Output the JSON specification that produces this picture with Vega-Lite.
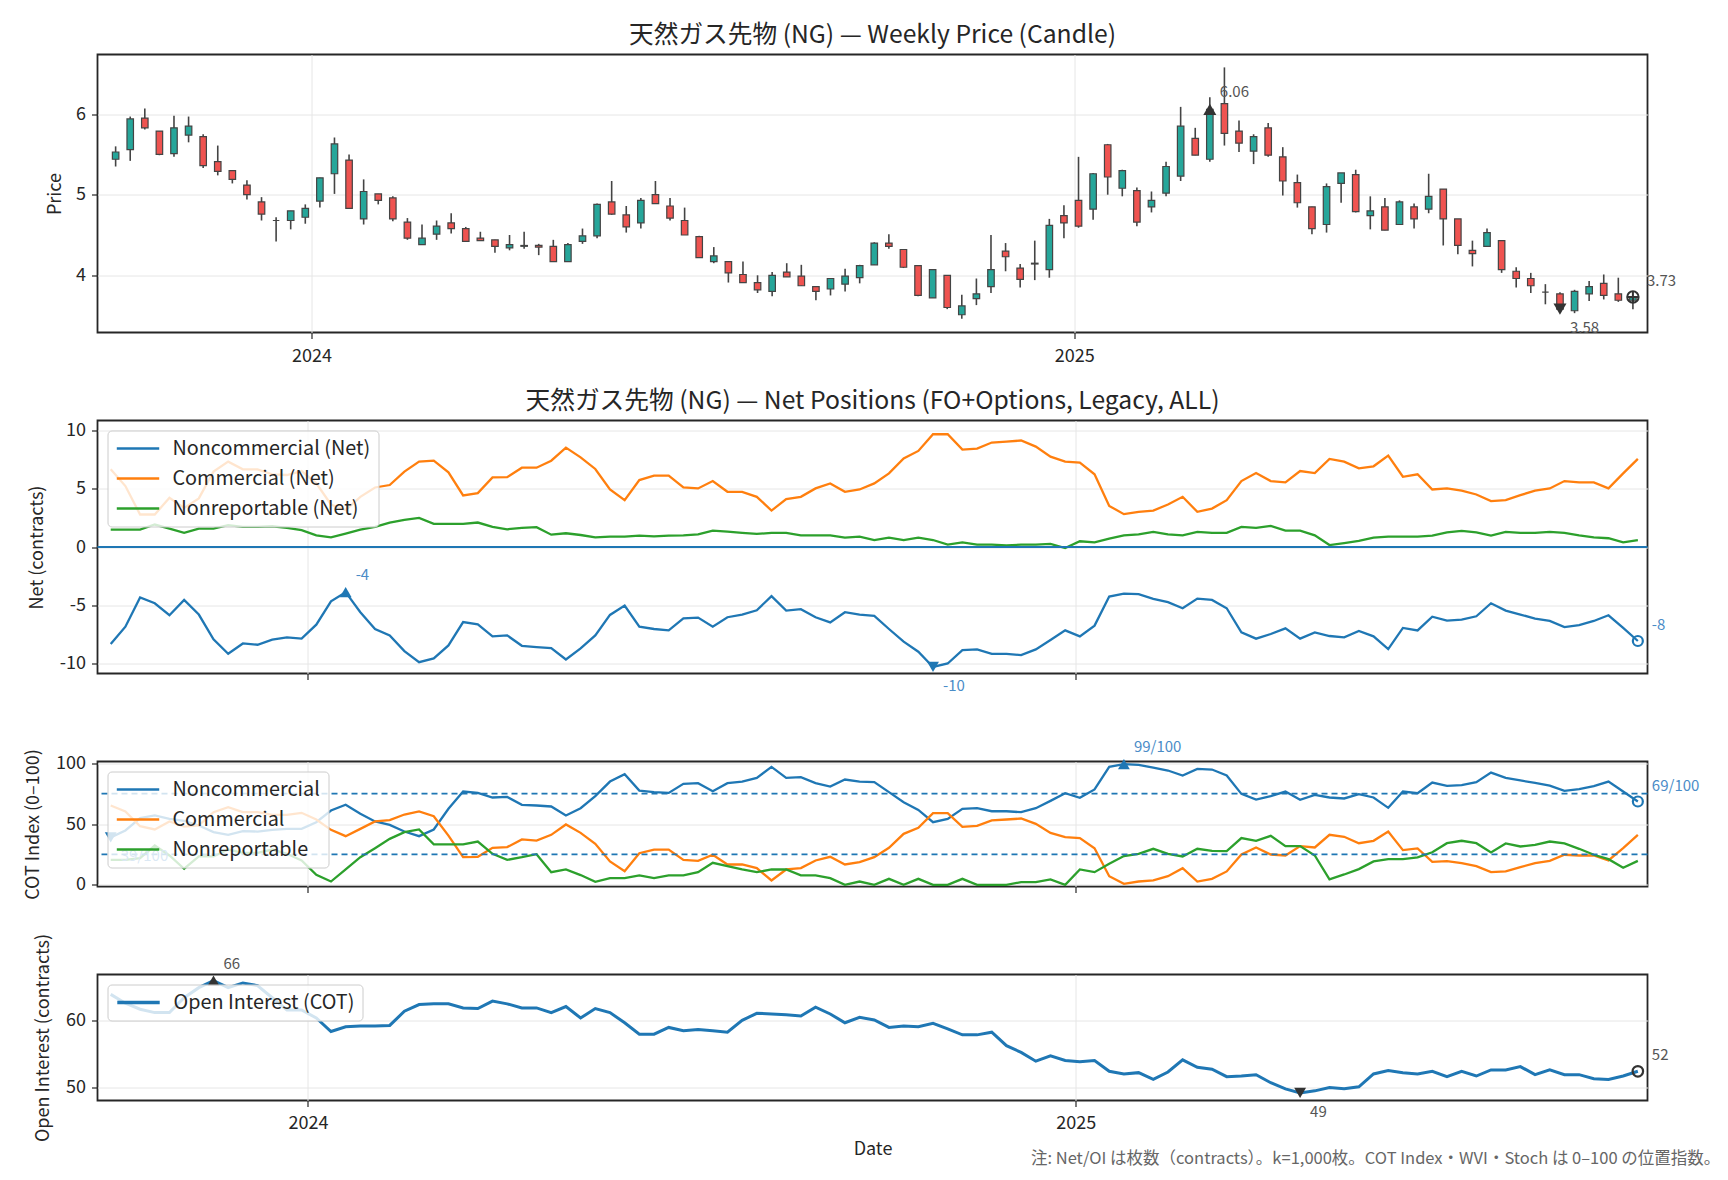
{
"$schema": "https://vega.github.io/schema/vega-lite/v6.json",
"padding": {"left": 23.5, "top": 21.5, "right": 5, "bottom": 5},
"background": "white",
"bounds": "flush",
"spacing": 88,
"title": {"text": "注: Net/OI は枚数（contracts）。k=1,000枚。COT Index・WVI・Stoch は 0–100 の位置指数。", "orient": "bottom", "anchor": "end", "fontSize": 16.5, "fontWeight": "normal", "color": "#666666", "offset": -8, "dx": 20},
"datasets": {
"w": [
{"d":"2023-09-29","o":5.44,"h":5.6,"l":5.35,"c":5.53,"nc":-8.33,"cm":6.67,"nr":1.49,"nci":39,"cmi":65.2,"nri":20.5,"oi":63.8},
{"d":"2023-10-06","o":5.56,"h":5.97,"l":5.42,"c":5.94,"nc":-6.84,"cm":5.23,"nr":1.49,"nci":44.7,"cmi":60.3,"nri":20.5,"oi":62.5},
{"d":"2023-10-13","o":5.95,"h":6.07,"l":5.81,"c":5.83,"nc":-4.34,"cm":2.79,"nr":1.49,"nci":54.8,"cmi":48.2,"nri":21.9,"oi":61.6},
{"d":"2023-10-20","o":5.79,"h":5.79,"l":5.49,"c":5.5,"nc":-4.83,"cm":2.79,"nr":1.93,"nci":57,"cmi":45.5,"nri":32.3,"oi":61.1},
{"d":"2023-10-27","o":5.51,"h":5.98,"l":5.47,"c":5.83,"nc":-5.86,"cm":4.22,"nr":1.58,"nci":54.2,"cmi":52.1,"nri":24.1,"oi":61.1},
{"d":"2023-11-03","o":5.74,"h":5.97,"l":5.65,"c":5.85,"nc":-4.54,"cm":3.36,"nr":1.21,"nci":52.6,"cmi":47.9,"nri":13.2,"oi":63.3},
{"d":"2023-11-10","o":5.72,"h":5.75,"l":5.33,"c":5.36,"nc":-5.8,"cm":4.17,"nr":1.58,"nci":48.8,"cmi":48.8,"nri":23.3,"oi":64.8},
{"d":"2023-11-17","o":5.41,"h":5.61,"l":5.24,"c":5.29,"nc":-7.93,"cm":6.47,"nr":1.58,"nci":43.3,"cmi":59.7,"nri":23.3,"oi":65.85},
{"d":"2023-11-24","o":5.3,"h":5.3,"l":5.14,"c":5.19,"nc":-9.17,"cm":7.33,"nr":1.87,"nci":41,"cmi":63.8,"nri":29,"oi":64.8},
{"d":"2023-12-01","o":5.12,"h":5.18,"l":4.94,"c":5.0,"nc":-8.28,"cm":6.67,"nr":1.72,"nci":44.1,"cmi":59.7,"nri":26.3,"oi":65.5},
{"d":"2023-12-08","o":4.91,"h":4.97,"l":4.68,"c":4.76,"nc":-8.39,"cm":6.67,"nr":1.72,"nci":43.8,"cmi":59.7,"nri":26.3,"oi":65.1},
{"d":"2023-12-15","o":4.68,"h":4.72,"l":4.42,"c":4.68,"nc":-7.96,"cm":6.24,"nr":1.78,"nci":45.2,"cmi":57.5,"nri":29,"oi":63.3},
{"d":"2023-12-22","o":4.68,"h":4.8,"l":4.57,"c":4.8,"nc":-7.76,"cm":6.18,"nr":1.64,"nci":46,"cmi":57.5,"nri":25.5,"oi":61.5},
{"d":"2023-12-29","o":4.72,"h":4.88,"l":4.64,"c":4.83,"nc":-7.87,"cm":6.52,"nr":1.44,"nci":46,"cmi":59.2,"nri":20,"oi":61.5},
{"d":"2024-01-05","o":4.92,"h":5.21,"l":4.84,"c":5.21,"nc":-6.67,"cm":5.46,"nr":1.0,"nci":51.5,"cmi":53.7,"nri":8.2,"oi":60.3},
{"d":"2024-01-12","o":5.26,"h":5.71,"l":5.01,"c":5.63,"nc":-4.66,"cm":3.65,"nr":0.83,"nci":61.1,"cmi":45.2,"nri":2.7,"oi":58.3},
{"d":"2024-01-19","o":5.43,"h":5.5,"l":4.83,"c":4.83,"nc":-3.88,"cm":3.16,"nr":1.15,"nci":65.8,"cmi":40,"nri":12.6,"oi":59.0},
{"d":"2024-01-26","o":4.7,"h":5.19,"l":4.63,"c":5.04,"nc":-5.6,"cm":4.31,"nr":1.49,"nci":58.4,"cmi":46,"nri":22.7,"oi":59.1},
{"d":"2024-02-02","o":5.01,"h":5.01,"l":4.88,"c":4.93,"nc":-7.04,"cm":5.11,"nr":1.72,"nci":52.1,"cmi":52.1,"nri":30.1,"oi":59.1},
{"d":"2024-02-09","o":4.96,"h":4.98,"l":4.67,"c":4.7,"nc":-7.59,"cm":5.32,"nr":2.1,"nci":49.3,"cmi":53.2,"nri":37.8,"oi":59.2},
{"d":"2024-02-16","o":4.66,"h":4.71,"l":4.44,"c":4.46,"nc":-8.94,"cm":6.47,"nr":2.33,"nci":43.8,"cmi":57.8,"nri":43.3,"oi":61.3},
{"d":"2024-02-23","o":4.38,"h":4.63,"l":4.38,"c":4.46,"nc":-9.89,"cm":7.33,"nr":2.5,"nci":40,"cmi":60.3,"nri":45.5,"oi":62.3},
{"d":"2024-03-01","o":4.51,"h":4.68,"l":4.44,"c":4.61,"nc":-9.57,"cm":7.41,"nr":1.98,"nci":45.5,"cmi":56.4,"nri":33.2,"oi":62.4},
{"d":"2024-03-08","o":4.65,"h":4.77,"l":4.52,"c":4.58,"nc":-8.45,"cm":6.41,"nr":1.98,"nci":62.5,"cmi":40.5,"nri":33.2,"oi":62.4},
{"d":"2024-03-15","o":4.58,"h":4.6,"l":4.42,"c":4.42,"nc":-6.44,"cm":4.43,"nr":1.98,"nci":76.7,"cmi":22.7,"nri":33.2,"oi":61.8},
{"d":"2024-03-22","o":4.46,"h":4.54,"l":4.43,"c":4.43,"nc":-6.64,"cm":4.63,"nr":2.1,"nci":75.6,"cmi":23,"nri":35.6,"oi":61.7},
{"d":"2024-03-29","o":4.44,"h":4.44,"l":4.28,"c":4.36,"nc":-7.67,"cm":5.98,"nr":1.72,"nci":71.8,"cmi":30.4,"nri":25.5,"oi":62.8},
{"d":"2024-04-05","o":4.34,"h":4.5,"l":4.31,"c":4.38,"nc":-7.59,"cm":6.0,"nr":1.52,"nci":72.3,"cmi":31,"nri":20.5,"oi":62.4},
{"d":"2024-04-12","o":4.36,"h":4.54,"l":4.33,"c":4.37,"nc":-8.48,"cm":6.81,"nr":1.64,"nci":65.8,"cmi":37.3,"nri":22.7,"oi":61.8},
{"d":"2024-04-19","o":4.37,"h":4.39,"l":4.25,"c":4.35,"nc":-8.59,"cm":6.81,"nr":1.7,"nci":65.2,"cmi":36.4,"nri":25.2,"oi":61.8},
{"d":"2024-04-26","o":4.36,"h":4.44,"l":4.17,"c":4.17,"nc":-8.68,"cm":7.41,"nr":1.06,"nci":64.4,"cmi":41.1,"nri":10.4,"oi":61.1},
{"d":"2024-05-03","o":4.17,"h":4.4,"l":4.17,"c":4.38,"nc":-9.66,"cm":8.53,"nr":1.18,"nci":57,"cmi":49.6,"nri":12.6,"oi":62.0},
{"d":"2024-05-10","o":4.42,"h":4.58,"l":4.39,"c":4.49,"nc":-8.71,"cm":7.7,"nr":1.03,"nci":63,"cmi":42.7,"nri":8,"oi":60.3},
{"d":"2024-05-17","o":4.49,"h":4.89,"l":4.46,"c":4.88,"nc":-7.59,"cm":6.7,"nr":0.82,"nci":73,"cmi":33.7,"nri":2.5,"oi":61.7},
{"d":"2024-05-24","o":4.91,"h":5.17,"l":4.75,"c":4.76,"nc":-5.83,"cm":4.94,"nr":0.89,"nci":84.9,"cmi":19.2,"nri":5.5,"oi":61.1},
{"d":"2024-05-31","o":4.75,"h":4.86,"l":4.53,"c":4.6,"nc":-5.03,"cm":4.02,"nr":0.89,"nci":91,"cmi":11.2,"nri":5.5,"oi":59.6},
{"d":"2024-06-07","o":4.65,"h":4.96,"l":4.58,"c":4.93,"nc":-6.84,"cm":5.75,"nr":0.98,"nci":77.5,"cmi":26,"nri":7.7,"oi":57.9},
{"d":"2024-06-14","o":5.0,"h":5.17,"l":4.89,"c":4.89,"nc":-7.04,"cm":6.12,"nr":0.92,"nci":76.2,"cmi":29,"nri":5.5,"oi":57.9},
{"d":"2024-06-21","o":4.86,"h":4.96,"l":4.68,"c":4.71,"nc":-7.16,"cm":6.12,"nr":0.98,"nci":75.6,"cmi":29,"nri":7.7,"oi":58.9},
{"d":"2024-06-28","o":4.68,"h":4.84,"l":4.5,"c":4.5,"nc":-6.12,"cm":5.11,"nr":1.0,"nci":83,"cmi":20.5,"nri":7.7,"oi":58.4},
{"d":"2024-07-05","o":4.48,"h":4.49,"l":4.22,"c":4.22,"nc":-6.06,"cm":5.03,"nr":1.09,"nci":83.6,"cmi":19.7,"nri":10.4,"oi":58.6},
{"d":"2024-07-12","o":4.17,"h":4.35,"l":4.15,"c":4.24,"nc":-6.84,"cm":5.66,"nr":1.41,"nci":77,"cmi":24.7,"nri":18.1,"oi":58.4},
{"d":"2024-07-19","o":4.17,"h":4.17,"l":3.91,"c":4.03,"nc":-6.03,"cm":4.74,"nr":1.32,"nci":83.6,"cmi":16.7,"nri":15.3,"oi":58.2},
{"d":"2024-07-26","o":4.01,"h":4.17,"l":3.91,"c":3.91,"nc":-5.8,"cm":4.74,"nr":1.21,"nci":84.9,"cmi":16.7,"nri":12.6,"oi":59.95},
{"d":"2024-08-02","o":3.91,"h":4.0,"l":3.78,"c":3.82,"nc":-5.43,"cm":4.31,"nr":1.12,"nci":87.9,"cmi":13.7,"nri":10.4,"oi":61.0},
{"d":"2024-08-09","o":3.8,"h":4.04,"l":3.74,"c":4.0,"nc":-4.22,"cm":3.13,"nr":1.21,"nci":97,"cmi":3.6,"nri":12.6,"oi":60.9},
{"d":"2024-08-16","o":4.04,"h":4.15,"l":3.98,"c":3.98,"nc":-5.46,"cm":4.11,"nr":1.21,"nci":87.9,"cmi":12.6,"nri":12.6,"oi":60.8},
{"d":"2024-08-23","o":3.99,"h":4.13,"l":3.87,"c":3.87,"nc":-5.34,"cm":4.31,"nr":1.0,"nci":88.5,"cmi":13.7,"nri":7.7,"oi":60.6},
{"d":"2024-08-30","o":3.86,"h":3.86,"l":3.69,"c":3.8,"nc":-6.03,"cm":5.03,"nr":1.0,"nci":83.6,"cmi":20,"nri":7.7,"oi":61.9},
{"d":"2024-09-06","o":3.83,"h":3.96,"l":3.75,"c":3.96,"nc":-6.47,"cm":5.46,"nr":1.0,"nci":80.8,"cmi":23,"nri":5.5,"oi":60.9},
{"d":"2024-09-13","o":3.89,"h":4.08,"l":3.8,"c":3.99,"nc":-5.6,"cm":4.74,"nr":0.8,"nci":86.6,"cmi":16.7,"nri":0,"oi":59.6},
{"d":"2024-09-20","o":3.97,"h":4.13,"l":3.9,"c":4.12,"nc":-5.8,"cm":4.94,"nr":0.89,"nci":84.9,"cmi":18.6,"nri":2.7,"oi":60.4},
{"d":"2024-09-27","o":4.13,"h":4.41,"l":4.13,"c":4.4,"nc":-5.92,"cm":5.46,"nr":0.6,"nci":84.4,"cmi":22.7,"nri":0,"oi":60.0},
{"d":"2024-10-04","o":4.4,"h":4.51,"l":4.33,"c":4.36,"nc":-7.04,"cm":6.32,"nr":0.8,"nci":76.2,"cmi":30.4,"nri":4.9,"oi":58.9},
{"d":"2024-10-11","o":4.32,"h":4.32,"l":4.09,"c":4.1,"nc":-8.13,"cm":7.61,"nr":0.6,"nci":67.9,"cmi":41.9,"nri":0,"oi":59.1},
{"d":"2024-10-18","o":4.12,"h":4.12,"l":3.74,"c":3.75,"nc":-8.99,"cm":8.25,"nr":0.8,"nci":61.6,"cmi":46.8,"nri":4.9,"oi":59.0},
{"d":"2024-10-25","o":3.72,"h":4.07,"l":3.72,"c":4.07,"nc":-10.3,"cm":9.68,"nr":0.6,"nci":51.5,"cmi":58.9,"nri":0,"oi":59.5},
{"d":"2024-11-01","o":4.0,"h":4.0,"l":3.58,"c":3.6,"nc":-10.0,"cm":9.68,"nr":0.2,"nci":54.2,"cmi":58.9,"nri":0,"oi":58.7},
{"d":"2024-11-08","o":3.51,"h":3.76,"l":3.46,"c":3.62,"nc":-8.85,"cm":8.36,"nr":0.4,"nci":62.5,"cmi":47.7,"nri":4.9,"oi":57.8},
{"d":"2024-11-15","o":3.71,"h":3.96,"l":3.63,"c":3.77,"nc":-8.79,"cm":8.45,"nr":0.2,"nci":63,"cmi":48.5,"nri":0,"oi":57.8},
{"d":"2024-11-22","o":3.86,"h":4.5,"l":3.78,"c":4.07,"nc":-9.17,"cm":8.97,"nr":0.2,"nci":60.5,"cmi":52.9,"nri":0,"oi":58.2},
{"d":"2024-11-29","o":4.3,"h":4.4,"l":4.05,"c":4.23,"nc":-9.17,"cm":9.05,"nr":0.14,"nci":60.5,"cmi":53.7,"nri":0,"oi":56.2},
{"d":"2024-12-06","o":4.09,"h":4.14,"l":3.85,"c":3.95,"nc":-9.28,"cm":9.14,"nr":0.2,"nci":59.7,"cmi":54.5,"nri":2.2,"oi":55.2},
{"d":"2024-12-13","o":4.14,"h":4.43,"l":3.94,"c":4.15,"nc":-8.79,"cm":8.62,"nr":0.2,"nci":63,"cmi":50.1,"nri":2.2,"oi":53.9},
{"d":"2024-12-20","o":4.07,"h":4.7,"l":3.97,"c":4.62,"nc":-7.99,"cm":7.76,"nr":0.26,"nci":69,"cmi":42.7,"nri":4.4,"oi":54.7},
{"d":"2024-12-27","o":4.74,"h":4.87,"l":4.46,"c":4.65,"nc":-7.16,"cm":7.33,"nr":-0.09,"nci":75.3,"cmi":39.2,"nri":0,"oi":54.0},
{"d":"2025-01-03","o":4.93,"h":5.47,"l":4.59,"c":4.61,"nc":-7.67,"cm":7.24,"nr":0.49,"nci":71.5,"cmi":38.4,"nri":12.6,"oi":53.8},
{"d":"2025-01-10","o":4.82,"h":5.27,"l":4.69,"c":5.26,"nc":-6.75,"cm":6.24,"nr":0.4,"nci":78.4,"cmi":30.1,"nri":10.4,"oi":54.0},
{"d":"2025-01-17","o":5.62,"h":5.63,"l":5.0,"c":5.22,"nc":-4.25,"cm":3.53,"nr":0.72,"nci":97,"cmi":7.1,"nri":17.3,"oi":52.4},
{"d":"2025-01-24","o":5.08,"h":5.31,"l":4.98,"c":5.3,"nc":-4.0,"cm":2.82,"nr":1.0,"nci":99.2,"cmi":0.8,"nri":23.6,"oi":52.0},
{"d":"2025-01-31","o":5.05,"h":5.09,"l":4.61,"c":4.66,"nc":-4.05,"cm":3.02,"nr":1.09,"nci":98.6,"cmi":2.7,"nri":25.5,"oi":52.2},
{"d":"2025-02-07","o":4.85,"h":5.04,"l":4.78,"c":4.93,"nc":-4.45,"cm":3.13,"nr":1.29,"nci":96.3,"cmi":3.6,"nri":29.6,"oi":51.2},
{"d":"2025-02-14","o":5.02,"h":5.41,"l":4.98,"c":5.35,"nc":-4.74,"cm":3.65,"nr":1.09,"nci":94,"cmi":7.1,"nri":25.5,"oi":52.3},
{"d":"2025-02-21","o":5.23,"h":6.09,"l":5.17,"c":5.85,"nc":-5.26,"cm":4.31,"nr":1.0,"nci":89.9,"cmi":13.7,"nri":23.3,"oi":54.1},
{"d":"2025-02-28","o":5.7,"h":5.83,"l":5.49,"c":5.49,"nc":-4.43,"cm":3.02,"nr":1.29,"nci":95.3,"cmi":2.7,"nri":29.6,"oi":53.0},
{"d":"2025-03-07","o":5.44,"h":6.21,"l":5.41,"c":6.06,"nc":-4.54,"cm":3.3,"nr":1.21,"nci":94.8,"cmi":4.9,"nri":27.9,"oi":52.7},
{"d":"2025-03-14","o":6.13,"h":6.58,"l":5.61,"c":5.76,"nc":-5.26,"cm":4.02,"nr":1.21,"nci":89.9,"cmi":11,"nri":27.7,"oi":51.6},
{"d":"2025-03-21","o":5.79,"h":5.92,"l":5.53,"c":5.64,"nc":-7.33,"cm":5.66,"nr":1.72,"nci":74.8,"cmi":24.9,"nri":38.4,"oi":51.7},
{"d":"2025-03-28","o":5.54,"h":5.75,"l":5.38,"c":5.72,"nc":-7.87,"cm":6.35,"nr":1.64,"nci":70.1,"cmi":30.7,"nri":36.2,"oi":51.9},
{"d":"2025-04-04","o":5.83,"h":5.89,"l":5.47,"c":5.49,"nc":-7.47,"cm":5.66,"nr":1.81,"nci":72.9,"cmi":24.9,"nri":40.3,"oi":50.7},
{"d":"2025-04-11","o":5.47,"h":5.59,"l":4.99,"c":5.17,"nc":-6.98,"cm":5.55,"nr":1.41,"nci":76.7,"cmi":24.1,"nri":31.8,"oi":49.8},
{"d":"2025-04-18","o":5.15,"h":5.25,"l":4.84,"c":4.9,"nc":-7.87,"cm":6.52,"nr":1.41,"nci":69.9,"cmi":31.8,"nri":31.8,"oi":49.2},
{"d":"2025-04-25","o":4.85,"h":4.85,"l":4.51,"c":4.58,"nc":-7.33,"cm":6.35,"nr":1.0,"nci":74,"cmi":30.7,"nri":24.1,"oi":49.5},
{"d":"2025-05-02","o":4.63,"h":5.14,"l":4.53,"c":5.1,"nc":-7.64,"cm":7.56,"nr":0.17,"nci":71.8,"cmi":41.1,"nri":4.4,"oi":50.0},
{"d":"2025-05-09","o":5.14,"h":5.27,"l":4.9,"c":5.27,"nc":-7.76,"cm":7.33,"nr":0.34,"nci":71,"cmi":39.5,"nri":8.5,"oi":49.8},
{"d":"2025-05-16","o":5.25,"h":5.31,"l":4.78,"c":4.79,"nc":-7.21,"cm":6.75,"nr":0.52,"nci":74.5,"cmi":34.2,"nri":12.9,"oi":50.1},
{"d":"2025-05-23","o":4.74,"h":4.98,"l":4.57,"c":4.8,"nc":-7.67,"cm":6.93,"nr":0.8,"nci":71.8,"cmi":36.2,"nri":19.2,"oi":52.0},
{"d":"2025-05-30","o":4.85,"h":4.96,"l":4.56,"c":4.56,"nc":-8.76,"cm":7.84,"nr":0.89,"nci":63.3,"cmi":43.8,"nri":21.1,"oi":52.5},
{"d":"2025-06-06","o":4.63,"h":4.93,"l":4.63,"c":4.91,"nc":-6.95,"cm":6.03,"nr":0.89,"nci":76.7,"cmi":28.5,"nri":21.1,"oi":52.2},
{"d":"2025-06-13","o":4.85,"h":4.89,"l":4.58,"c":4.7,"nc":-7.16,"cm":6.24,"nr":0.89,"nci":75.3,"cmi":29.9,"nri":22.5,"oi":52.0},
{"d":"2025-06-20","o":4.82,"h":5.26,"l":4.77,"c":4.98,"nc":-5.98,"cm":4.94,"nr":0.98,"nci":84.1,"cmi":18.9,"nri":26.8,"oi":52.4},
{"d":"2025-06-27","o":5.07,"h":5.07,"l":4.37,"c":4.7,"nc":-6.32,"cm":5.03,"nr":1.26,"nci":81.4,"cmi":19.5,"nri":34.2,"oi":51.6},
{"d":"2025-07-04","o":4.7,"h":4.7,"l":4.26,"c":4.37,"nc":-6.24,"cm":4.83,"nr":1.38,"nci":81.9,"cmi":17.8,"nri":36.2,"oi":52.4},
{"d":"2025-07-11","o":4.31,"h":4.43,"l":4.11,"c":4.27,"nc":-5.95,"cm":4.51,"nr":1.26,"nci":84.4,"cmi":15.3,"nri":34.2,"oi":51.7},
{"d":"2025-07-18","o":4.36,"h":4.58,"l":4.35,"c":4.53,"nc":-4.83,"cm":3.94,"nr":0.98,"nci":92.3,"cmi":10.4,"nri":26.6,"oi":52.6},
{"d":"2025-07-25","o":4.43,"h":4.43,"l":4.03,"c":4.07,"nc":-5.46,"cm":4.02,"nr":1.29,"nci":87.9,"cmi":11,"nri":34,"oi":52.6},
{"d":"2025-08-01","o":4.05,"h":4.1,"l":3.85,"c":3.96,"nc":-5.8,"cm":4.45,"nr":1.21,"nci":85.8,"cmi":14.5,"nri":31.5,"oi":53.1},
{"d":"2025-08-08","o":3.96,"h":4.03,"l":3.78,"c":3.87,"nc":-6.15,"cm":4.83,"nr":1.21,"nci":83.8,"cmi":17.8,"nri":32.9,"oi":51.9},
{"d":"2025-08-15","o":3.79,"h":3.89,"l":3.64,"c":3.79,"nc":-6.35,"cm":5.03,"nr":1.29,"nci":81.6,"cmi":19.7,"nri":35.6,"oi":52.6},
{"d":"2025-08-22","o":3.77,"h":3.79,"l":3.55,"c":3.58,"nc":-6.87,"cm":5.66,"nr":1.21,"nci":77.3,"cmi":24.7,"nri":34,"oi":51.9},
{"d":"2025-08-29","o":3.56,"h":3.82,"l":3.53,"c":3.8,"nc":-6.7,"cm":5.55,"nr":1.0,"nci":78.6,"cmi":24.1,"nri":29.6,"oi":51.9},
{"d":"2025-09-05","o":3.77,"h":3.93,"l":3.68,"c":3.86,"nc":-6.35,"cm":5.55,"nr":0.83,"nci":81.1,"cmi":24.1,"nri":24.7,"oi":51.3},
{"d":"2025-09-12","o":3.9,"h":4.01,"l":3.7,"c":3.75,"nc":-5.86,"cm":5.03,"nr":0.75,"nci":84.9,"cmi":20,"nri":21.1,"oi":51.2},
{"d":"2025-09-19","o":3.77,"h":3.97,"l":3.67,"c":3.69,"nc":-6.95,"cm":6.32,"nr":0.4,"nci":76.7,"cmi":30.1,"nri":14,"oi":51.7},
{"d":"2025-09-26","o":3.69,"h":3.74,"l":3.58,"c":3.73,"nc":-8.07,"cm":7.56,"nr":0.6,"nci":68.5,"cmi":41.1,"nri":19.7,"oi":52.4}
],
"ann": [
{"p":"price","k":"max","d":"2025-03-07","v":6.06,"t":"6.06"},
{"p":"price","k":"min","d":"2025-08-22","v":3.58,"t":"3.58"},
{"p":"price","k":"last","d":"2025-09-26","v":3.73,"t":"3.73"},
{"p":"net","k":"max","d":"2024-01-19","v":-3.88,"t":"-4"},
{"p":"net","k":"min","d":"2024-10-25","v":-10.3,"t":"-10"},
{"p":"net","k":"last","d":"2025-09-26","v":-8.07,"t":"-8"},
{"p":"cot","k":"max","d":"2025-01-24","v":99.2,"t":"99/100"},
{"p":"cot","k":"min","d":"2023-09-29","v":39,"t":"39/100"},
{"p":"cot","k":"last","d":"2025-09-26","v":68.5,"t":"69/100"},
{"p":"oi","k":"max","d":"2023-11-17","v":65.85,"t":"66"},
{"p":"oi","k":"min","d":"2025-04-18","v":49.2,"t":"49"},
{"p":"oi","k":"last","d":"2025-09-26","v":52.4,"t":"52"}
]
},
"resolve": {"scale": {"color": "independent"}, "legend": {"color": "independent"}},
"vconcat": [
{
"width": 1550, "height": 278,
"title": {"text": "天然ガス先物 (NG) — Weekly Price (Candle)"},
"layer": [
{"data": {"name": "w"}, "mark": {"type": "rule", "color": "#444444", "strokeWidth": 1.6},
 "encoding": {
  "x": {"field": "d", "type": "temporal", "title": null, "scale": {"type": "utc", "domain": [1695401280000, 1759242240000]}, "axis": {"values": [1704067200000, 1735689600000], "format": "%Y", "labelPadding": 9}},
  "y": {"field": "l", "type": "quantitative", "title": "Price", "scale": {"domain": [3.29, 6.74], "nice": false, "zero": false}, "axis": {"values": [4, 5, 6], "format": "d", "titlePadding": 11}},
  "y2": {"field": "h"}}},
{"data": {"name": "w"}, "mark": {"type": "bar", "size": 6.5, "stroke": "#444444", "strokeWidth": 1.2},
 "encoding": {
  "x": {"field": "d", "type": "temporal", "title": null, "scale": {"type": "utc", "domain": [1695401280000, 1759242240000]}},
  "y": {"field": "o", "type": "quantitative", "title": "Price"},
  "y2": {"field": "c"},
  "color": {"condition": {"test": "datum.c >= datum.o", "value": "#26a69a"}, "value": "#ef5350"}}},
{"data": {"name": "ann"}, "transform": [{"filter": "datum.p == 'price' && datum.k == 'max'"}],
 "mark": {"type": "point", "shape": "triangle-up", "filled": true, "opacity": 1, "size": 170, "color": "#333333"},
 "encoding": {"x": {"field": "d", "type": "temporal", "title": null}, "y": {"field": "v", "type": "quantitative", "title": "Price"}}},
{"data": {"name": "ann"}, "transform": [{"filter": "datum.p == 'price' && datum.k == 'min'"}],
 "mark": {"type": "point", "shape": "triangle-down", "filled": true, "opacity": 1, "size": 170, "color": "#333333"},
 "encoding": {"x": {"field": "d", "type": "temporal", "title": null}, "y": {"field": "v", "type": "quantitative", "title": "Price"}}},
{"data": {"name": "ann"}, "transform": [{"filter": "datum.p == 'price' && datum.k == 'last'"}],
 "mark": {"type": "point", "shape": "circle", "filled": false, "opacity": 1, "size": 130, "strokeWidth": 2, "color": "#333333"},
 "encoding": {"x": {"field": "d", "type": "temporal", "title": null}, "y": {"field": "v", "type": "quantitative", "title": "Price"}}},
{"data": {"name": "ann"}, "transform": [{"filter": "datum.p == 'price' && datum.k == 'last'"}],
 "mark": {"type": "point", "shape": "M-1,0L1,0M0,-1L0,1", "filled": false, "opacity": 1, "size": 130, "strokeWidth": 2, "color": "#333333"},
 "encoding": {"x": {"field": "d", "type": "temporal", "title": null}, "y": {"field": "v", "type": "quantitative", "title": "Price"}}},
{"data": {"name": "ann"}, "transform": [{"filter": "datum.p == 'price' && datum.k == 'max'"}],
 "mark": {"type": "text", "align": "left", "baseline": "middle", "dx": 10, "dy": -17, "fontSize": 15, "color": "#555555"},
 "encoding": {"x": {"field": "d", "type": "temporal", "title": null}, "y": {"field": "v", "type": "quantitative", "title": "Price"}, "text": {"field": "t"}}},
{"data": {"name": "ann"}, "transform": [{"filter": "datum.p == 'price' && datum.k == 'min'"}],
 "mark": {"type": "text", "align": "left", "baseline": "middle", "dx": 10, "dy": 19, "fontSize": 15, "color": "#555555"},
 "encoding": {"x": {"field": "d", "type": "temporal", "title": null}, "y": {"field": "v", "type": "quantitative", "title": "Price"}, "text": {"field": "t"}}},
{"data": {"name": "ann"}, "transform": [{"filter": "datum.p == 'price' && datum.k == 'last'"}],
 "mark": {"type": "text", "align": "left", "baseline": "middle", "dx": 14, "dy": -16, "fontSize": 15, "color": "#555555"},
 "encoding": {"x": {"field": "d", "type": "temporal", "title": null}, "y": {"field": "v", "type": "quantitative", "title": "Price"}, "text": {"field": "t"}}}
]
},
{
"width": 1550, "height": 253,
"title": {"text": "天然ガス先物 (NG) — Net Positions (FO+Options, Legacy, ALL)"},
"layer": [
{"data": {"name": "w"}, "transform": [{"fold": ["nc", "cm", "nr"], "as": ["s", "v"]}],
 "mark": {"type": "line", "strokeWidth": 2.3},
 "encoding": {
  "x": {"field": "d", "type": "temporal", "title": null, "scale": {"type": "utc", "domain": [1695401280000, 1759242240000]}, "axis": {"values": [1704067200000, 1735689600000], "labels": false}},
  "y": {"field": "v", "type": "quantitative", "title": "Net (contracts)", "scale": {"domain": [-10.86, 10.86], "nice": false, "zero": false}, "axis": {"values": [-10, -5, 0, 5, 10], "labelExpr": "'' + datum.value", "titlePadding": 13}},
  "color": {"field": "s", "type": "nominal", "scale": {"domain": ["nc", "cm", "nr"], "range": ["#1f77b4", "#ff7f0e", "#2ca02c"]},
   "legend": {"title": null, "labelExpr": "datum.label == 'nc' ? 'Noncommercial (Net)' : datum.label == 'cm' ? 'Commercial (Net)' : 'Nonreportable (Net)'"}}}},
{"data": {"values": [{}]}, "mark": {"type": "rule", "color": "#1f77b4", "strokeWidth": 1.8},
 "encoding": {"y": {"datum": 0, "type": "quantitative", "title": "Net (contracts)"}}},
{"data": {"name": "ann"}, "transform": [{"filter": "datum.p == 'net' && datum.k == 'max'"}],
 "mark": {"type": "point", "shape": "triangle-up", "filled": true, "opacity": 1, "size": 140, "color": "#1f77b4"},
 "encoding": {"x": {"field": "d", "type": "temporal", "title": null}, "y": {"field": "v", "type": "quantitative", "title": "Net (contracts)"}}},
{"data": {"name": "ann"}, "transform": [{"filter": "datum.p == 'net' && datum.k == 'min'"}],
 "mark": {"type": "point", "shape": "triangle-down", "filled": true, "opacity": 1, "size": 140, "color": "#1f77b4"},
 "encoding": {"x": {"field": "d", "type": "temporal", "title": null}, "y": {"field": "v", "type": "quantitative", "title": "Net (contracts)"}}},
{"data": {"name": "ann"}, "transform": [{"filter": "datum.p == 'net' && datum.k == 'last'"}],
 "mark": {"type": "point", "shape": "circle", "filled": false, "opacity": 1, "size": 100, "strokeWidth": 2.2, "color": "#1f77b4"},
 "encoding": {"x": {"field": "d", "type": "temporal", "title": null}, "y": {"field": "v", "type": "quantitative", "title": "Net (contracts)"}}},
{"data": {"name": "ann"}, "transform": [{"filter": "datum.p == 'net' && datum.k == 'max'"}],
 "mark": {"type": "text", "align": "left", "baseline": "middle", "dx": 10, "dy": -17, "fontSize": 15, "color": "#4a8cc7"},
 "encoding": {"x": {"field": "d", "type": "temporal", "title": null}, "y": {"field": "v", "type": "quantitative", "title": "Net (contracts)"}, "text": {"field": "t"}}},
{"data": {"name": "ann"}, "transform": [{"filter": "datum.p == 'net' && datum.k == 'min'"}],
 "mark": {"type": "text", "align": "left", "baseline": "middle", "dx": 10, "dy": 19, "fontSize": 15, "color": "#4a8cc7"},
 "encoding": {"x": {"field": "d", "type": "temporal", "title": null}, "y": {"field": "v", "type": "quantitative", "title": "Net (contracts)"}, "text": {"field": "t"}}},
{"data": {"name": "ann"}, "transform": [{"filter": "datum.p == 'net' && datum.k == 'last'"}],
 "mark": {"type": "text", "align": "left", "baseline": "middle", "dx": 14, "dy": -16, "fontSize": 15, "color": "#4a8cc7"},
 "encoding": {"x": {"field": "d", "type": "temporal", "title": null}, "y": {"field": "v", "type": "quantitative", "title": "Net (contracts)"}, "text": {"field": "t"}}}
]
},
{
"width": 1550, "height": 125,
"layer": [
{"data": {"name": "w"}, "transform": [{"fold": ["nci", "cmi", "nri"], "as": ["s", "v"]}],
 "mark": {"type": "line", "strokeWidth": 2.3},
 "encoding": {
  "x": {"field": "d", "type": "temporal", "title": null, "scale": {"type": "utc", "domain": [1695401280000, 1759242240000]}, "axis": {"values": [1704067200000, 1735689600000], "labels": false}},
  "y": {"field": "v", "type": "quantitative", "title": "COT Index (0–100)", "scale": {"domain": [-1.4, 101.4], "nice": false, "zero": false}, "axis": {"values": [0, 50, 100], "titlePadding": 13}},
  "color": {"field": "s", "type": "nominal", "scale": {"domain": ["nci", "cmi", "nri"], "range": ["#1f77b4", "#ff7f0e", "#2ca02c"]},
   "legend": {"title": null, "labelExpr": "datum.label == 'nci' ? 'Noncommercial' : datum.label == 'cmi' ? 'Commercial' : 'Nonreportable'"}}}},
{"data": {"values": [{}]}, "mark": {"type": "rule", "color": "#1f77b4", "strokeWidth": 1.6, "strokeDash": [6, 4]},
 "encoding": {"y": {"datum": 75, "type": "quantitative", "title": "COT Index (0–100)"}}},
{"data": {"values": [{}]}, "mark": {"type": "rule", "color": "#1f77b4", "strokeWidth": 1.6, "strokeDash": [6, 4]},
 "encoding": {"y": {"datum": 25, "type": "quantitative", "title": "COT Index (0–100)"}}},
{"data": {"name": "ann"}, "transform": [{"filter": "datum.p == 'cot' && datum.k == 'max'"}],
 "mark": {"type": "point", "shape": "triangle-up", "filled": true, "opacity": 1, "size": 140, "color": "#1f77b4"},
 "encoding": {"x": {"field": "d", "type": "temporal", "title": null}, "y": {"field": "v", "type": "quantitative", "title": "COT Index (0–100)"}}},
{"data": {"name": "ann"}, "transform": [{"filter": "datum.p == 'cot' && datum.k == 'min'"}],
 "mark": {"type": "point", "shape": "triangle-down", "filled": true, "opacity": 1, "size": 140, "color": "#1f77b4"},
 "encoding": {"x": {"field": "d", "type": "temporal", "title": null}, "y": {"field": "v", "type": "quantitative", "title": "COT Index (0–100)"}}},
{"data": {"name": "ann"}, "transform": [{"filter": "datum.p == 'cot' && datum.k == 'last'"}],
 "mark": {"type": "point", "shape": "circle", "filled": false, "opacity": 1, "size": 100, "strokeWidth": 2.2, "color": "#1f77b4"},
 "encoding": {"x": {"field": "d", "type": "temporal", "title": null}, "y": {"field": "v", "type": "quantitative", "title": "COT Index (0–100)"}}},
{"data": {"name": "ann"}, "transform": [{"filter": "datum.p == 'cot' && datum.k == 'max'"}],
 "mark": {"type": "text", "align": "left", "baseline": "middle", "dx": 10, "dy": -17, "fontSize": 15, "color": "#4a8cc7"},
 "encoding": {"x": {"field": "d", "type": "temporal", "title": null}, "y": {"field": "v", "type": "quantitative", "title": "COT Index (0–100)"}, "text": {"field": "t"}}},
{"data": {"name": "ann"}, "transform": [{"filter": "datum.p == 'cot' && datum.k == 'min'"}],
 "mark": {"type": "text", "align": "left", "baseline": "middle", "dx": 10, "dy": 19, "fontSize": 15, "color": "#4a8cc7"},
 "encoding": {"x": {"field": "d", "type": "temporal", "title": null}, "y": {"field": "v", "type": "quantitative", "title": "COT Index (0–100)"}, "text": {"field": "t"}}},
{"data": {"name": "ann"}, "transform": [{"filter": "datum.p == 'cot' && datum.k == 'last'"}],
 "mark": {"type": "text", "align": "left", "baseline": "middle", "dx": 14, "dy": -16, "fontSize": 15, "color": "#4a8cc7"},
 "encoding": {"x": {"field": "d", "type": "temporal", "title": null}, "y": {"field": "v", "type": "quantitative", "title": "COT Index (0–100)"}, "text": {"field": "t"}}}
]
},
{
"width": 1550, "height": 126,
"layer": [
{"data": {"name": "w"}, "mark": {"type": "line", "strokeWidth": 3},
 "encoding": {
  "x": {"field": "d", "type": "temporal", "title": "Date", "scale": {"type": "utc", "domain": [1695401280000, 1759242240000]}, "axis": {"values": [1704067200000, 1735689600000], "format": "%Y", "labelPadding": 8, "titlePadding": 8}},
  "y": {"field": "oi", "type": "quantitative", "title": "Open Interest (contracts)", "scale": {"domain": [48.07, 66.75], "nice": false, "zero": false}, "axis": {"values": [50, 60], "titlePadding": 13}},
  "color": {"datum": "Open Interest (COT)", "type": "nominal", "scale": {"range": ["#1f77b4"]}, "legend": {"title": null, "symbolStrokeWidth": 3.5}}}},
{"data": {"name": "ann"}, "transform": [{"filter": "datum.p == 'oi' && datum.k == 'max'"}],
 "mark": {"type": "point", "shape": "triangle-up", "filled": true, "opacity": 1, "size": 140, "color": "#333333"},
 "encoding": {"x": {"field": "d", "type": "temporal", "title": "Date"}, "y": {"field": "v", "type": "quantitative", "title": "Open Interest (contracts)"}}},
{"data": {"name": "ann"}, "transform": [{"filter": "datum.p == 'oi' && datum.k == 'min'"}],
 "mark": {"type": "point", "shape": "triangle-down", "filled": true, "opacity": 1, "size": 140, "color": "#333333"},
 "encoding": {"x": {"field": "d", "type": "temporal", "title": "Date"}, "y": {"field": "v", "type": "quantitative", "title": "Open Interest (contracts)"}}},
{"data": {"name": "ann"}, "transform": [{"filter": "datum.p == 'oi' && datum.k == 'last'"}],
 "mark": {"type": "point", "shape": "circle", "filled": false, "opacity": 1, "size": 110, "strokeWidth": 2.2, "color": "#333333"},
 "encoding": {"x": {"field": "d", "type": "temporal", "title": "Date"}, "y": {"field": "v", "type": "quantitative", "title": "Open Interest (contracts)"}}},
{"data": {"name": "ann"}, "transform": [{"filter": "datum.p == 'oi' && datum.k == 'max'"}],
 "mark": {"type": "text", "align": "left", "baseline": "middle", "dx": 10, "dy": -17, "fontSize": 15, "color": "#555555"},
 "encoding": {"x": {"field": "d", "type": "temporal", "title": "Date"}, "y": {"field": "v", "type": "quantitative", "title": "Open Interest (contracts)"}, "text": {"field": "t"}}},
{"data": {"name": "ann"}, "transform": [{"filter": "datum.p == 'oi' && datum.k == 'min'"}],
 "mark": {"type": "text", "align": "left", "baseline": "middle", "dx": 10, "dy": 19, "fontSize": 15, "color": "#555555"},
 "encoding": {"x": {"field": "d", "type": "temporal", "title": "Date"}, "y": {"field": "v", "type": "quantitative", "title": "Open Interest (contracts)"}, "text": {"field": "t"}}},
{"data": {"name": "ann"}, "transform": [{"filter": "datum.p == 'oi' && datum.k == 'last'"}],
 "mark": {"type": "text", "align": "left", "baseline": "middle", "dx": 14, "dy": -16, "fontSize": 15, "color": "#555555"},
 "encoding": {"x": {"field": "d", "type": "temporal", "title": "Date"}, "y": {"field": "v", "type": "quantitative", "title": "Open Interest (contracts)"}, "text": {"field": "t"}}}
]
}
],
"config": {
 "font": "Noto Sans CJK JP",
 "view": {"stroke": "#262626", "strokeWidth": 1.8},
 "axis": {"domain": false, "grid": true, "gridColor": "#e6e6e6", "gridWidth": 1, "tickColor": "#262626", "tickWidth": 1.2, "tickSize": 6, "labelFontSize": 18, "labelColor": "#262626", "titleFontSize": 18, "titleFontWeight": "normal", "titleColor": "#262626", "labelPadding": 6, "titlePadding": 8},
 "title": {"fontSize": 24.7, "fontWeight": "normal", "color": "#262626", "offset": 7},
 "legend": {"orient": "top-left", "offset": 10, "fillColor": "rgba(255,255,255,0.8)", "strokeColor": "#cccccc", "strokeWidth": 1, "cornerRadius": 4, "padding": 8, "labelFontSize": 19.8, "labelColor": "#262626", "labelLimit": 500, "symbolType": "stroke", "symbolStrokeWidth": 2.5, "symbolSize": 1800, "labelOffset": 12, "rowPadding": 10, "clipHeight": 20}
}
}
